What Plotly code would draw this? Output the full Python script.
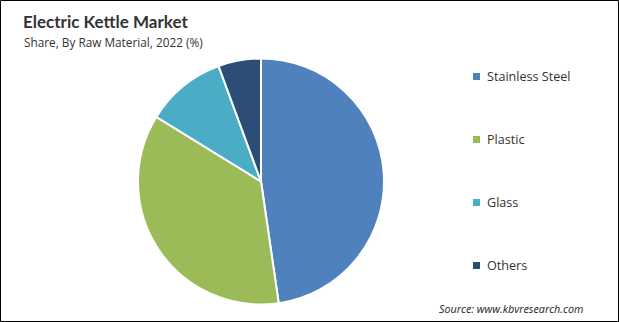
import plotly.graph_objects as go

categories = ["Stainless Steel", "Plastic", "Glass", "Others"]
shares = [47.7, 36.1, 10.6, 5.6]
colors = ["#4f81bd", "#9bbb59", "#4bacc6", "#2c4d75"]

W, H = 619, 322

fig = go.Figure(go.Pie(
    labels=categories, values=shares, sort=False, direction="clockwise", rotation=0,
    marker=dict(colors=colors, line=dict(color="white", width=2)),
    textinfo="none", hoverinfo="label+percent", showlegend=False,
    domain=dict(x=[(261-123)/W, (261+123)/W], y=[(322-304.5)/H, (322-58.5)/H]),
))

font = "Open Sans, Noto Sans, sans-serif"
ann = [
    dict(x=21/W, y=1-21.5/H, text="<b>Electric Kettle Market</b>", font=dict(size=17, color="#333333", family="Lato, Open Sans, sans-serif")),
    dict(x=22/W, y=1-42/H, text="Share, By Raw Material, 2022 (%)", font=dict(size=11.8, color="#333333", family=font)),
    dict(x=437/W, y=1-308/H, text="<i>Source: www.kbvresearch.com</i>", font=dict(size=10.8, color="#222222", family=font)),
]
shapes = []
rows = [76.5, 139.5, 202.5, 265.5]
for cat, col, yy in zip(categories, colors, rows):
    ann.append(dict(x=485/W, y=1-yy/H, text=cat, font=dict(size=12.6, color="#333333", family=font)))
    shapes.append(dict(type="rect", xref="paper", yref="paper", x0=473/W, x1=480/W,
                       y0=1-(yy+3.5)/H, y1=1-(yy-3.5)/H, fillcolor=col, line=dict(width=0)))
for a in ann:
    a.update(xref="paper", yref="paper", xanchor="left", yanchor="middle", showarrow=False)
shapes.append(dict(type="rect", xref="paper", yref="paper", x0=0.5/W, x1=1-0.5/W, y0=0.5/H, y1=1-0.5/H,
                   line=dict(color="#000000", width=1), fillcolor="rgba(0,0,0,0)"))

fig.update_layout(width=W, height=H, margin=dict(l=0, r=0, t=0, b=0),
                  paper_bgcolor="white", plot_bgcolor="white",
                  annotations=ann, shapes=shapes)
fig.write_html("out.html")
